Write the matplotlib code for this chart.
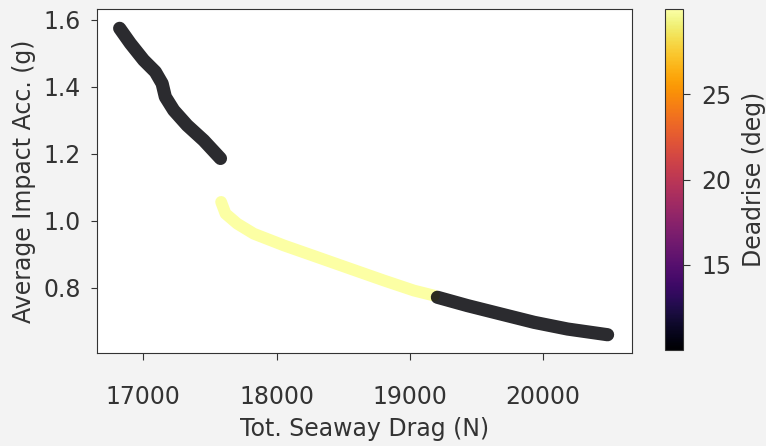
import matplotlib.pyplot as plt
import matplotlib as mpl

# drag (N), impact acc (g), deadrise (deg)
drag_a = [16822, 16902, 17002, 17090, 17141, 17165, 17228, 17329, 17453, 17579]
acc_a = [1.575, 1.530, 1.480, 1.445, 1.410, 1.370, 1.330, 1.285, 1.240, 1.186]
dead_a = 10

drag_b = [17584, 17617, 17705, 17829, 18055, 18306, 18556, 18807, 19032, 19183]
acc_b = [1.056, 1.021, 0.991, 0.961, 0.926, 0.891, 0.856, 0.821, 0.791, 0.776]
dead_b = 30

drag_c = [19208, 19434, 19684, 19935, 20186, 20486]
acc_c = [0.771, 0.746, 0.721, 0.696, 0.676, 0.659]
dead_c = 10

xticks = [17000, 18000, 19000, 20000]
yticks = [0.8, 1.0, 1.2, 1.4, 1.6]
cbticks = [15, 20, 25]

plt.rcParams['font.size'] = 17
plt.rcParams['text.color'] = '#333333'
plt.rcParams['axes.labelcolor'] = '#333333'
plt.rcParams['xtick.color'] = '#333333'
plt.rcParams['ytick.color'] = '#333333'
plt.rcParams['axes.edgecolor'] = '#333333'
plt.rcParams['xtick.major.size'] = 5
plt.rcParams['ytick.major.size'] = 4
plt.rcParams['xtick.major.pad'] = 18
plt.rcParams['ytick.major.pad'] = 8

cmap = plt.get_cmap('inferno')
norm = mpl.colors.Normalize(vmin=10, vmax=30)

fig = plt.figure(figsize=(7.66, 4.46), dpi=100, facecolor='#f3f3f3')
ax = fig.add_axes([0.127, 0.209, 0.698, 0.771])
ax.set_facecolor('white')

for xs, ys, d in [(drag_a, acc_a, dead_a), (drag_b, acc_b, dead_b), (drag_c, acc_c, dead_c)]:
    ax.plot(xs, ys, color=cmap(norm(d)), lw=9.5 if d == dead_a else 8.5,
            solid_capstyle='round', solid_joinstyle='round',
            alpha=0.83 if d == dead_a else 1)

ax.set_xlim(16654, 20669)
ax.set_ylim(0.605, 1.633)
ax.set_xticks(xticks)
ax.set_yticks(yticks)
ax.set_xlabel('Tot. Seaway Drag (N)', labelpad=6)
ax.set_ylabel('Average Impact Acc. (g)', labelpad=5)

cax = fig.add_axes([0.868, 0.215, 0.0235, 0.765])
sm = mpl.cm.ScalarMappable(norm=norm, cmap=cmap)
cb = fig.colorbar(sm, cax=cax)
cb.set_ticks(cbticks)
cb.ax.tick_params(length=5, pad=8)
cb.set_label('Deadrise (deg)', labelpad=8)
cb.outline.set_edgecolor('#333333')

fig.savefig('out.png', dpi=100, facecolor=fig.get_facecolor())
